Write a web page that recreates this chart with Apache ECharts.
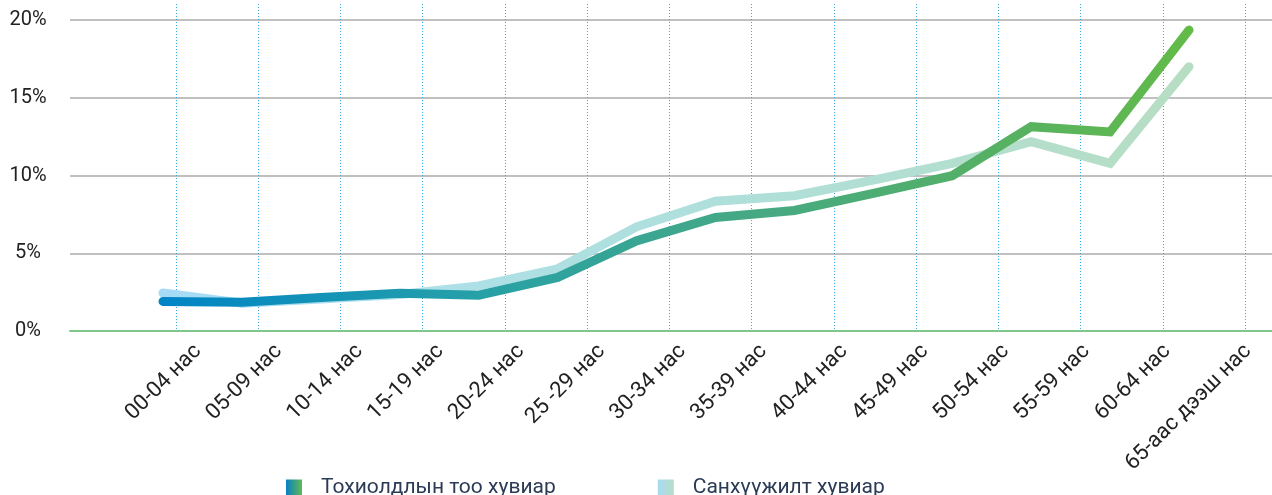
<!DOCTYPE html>
<html>
<head>
<meta charset="utf-8">
<script src="https://cdn.jsdelivr.net/npm/echarts@6/dist/echarts.min.js"></script>
<style>
  html, body { margin: 0; padding: 0; background: #fff; }
  #chart { width: 1272px; height: 495px; }
</style>
</head>
<body>
<div id="chart"></div>
<script>
// age groups
const ageGroups = ['00-04 нас', '05-09 нас', '10-14 нас', '15-19 нас', '20-24 нас', '25 -29 нас', '30-34 нас',
  '35-39 нас', '40-44 нас', '45-49 нас', '50-54 нас', '55-59 нас', '60-64 нас', '65-аас дээш нас'];

// share of cases, %
const caseShare = [1.9, 1.85, 2.15, 2.42, 2.3, 3.45, 5.8, 7.3, 7.75, 8.85, 9.99, 13.14, 12.8, 19.35];
// share of funding, %
const fundingShare = [2.45, 1.78, 2.05, 2.35, 2.9, 4.0, 6.7, 8.35, 8.7, 9.7, 10.78, 12.17, 10.78, 17.0];

const yTicks = [0, 5, 10, 15, 20];

const seriesNames = ['Тохиолдлын тоо хувиар', 'Санхүүжилт хувиар'];

const caseGradient = new echarts.graphic.LinearGradient(0, 0, 1, 0, [
  { offset: 0, color: '#0084c6' },
  { offset: 0.3, color: '#25a0a8' },
  { offset: 0.55, color: '#44a887' },
  { offset: 0.8, color: '#55b065' },
  { offset: 1, color: '#63bb48' }
]);
const fundGradient = new echarts.graphic.LinearGradient(0, 0, 1, 0, [
  { offset: 0, color: '#a5dbf6' },
  { offset: 0.3, color: '#ade0e6' },
  { offset: 0.6, color: '#b0dfd8' },
  { offset: 1, color: '#b7dec3' }
]);

const chart = echarts.init(document.getElementById('chart'));
const font = 'Roboto';
const hiddenY = (gi) => ({ gridIndex: gi, type: 'value', min: 0, max: 20, show: false });

chart.setOption({
  animation: false,
  textStyle: { fontFamily: font },
  legend: {
    left: 286,
    top: 477,
    padding: 0,
    itemWidth: 16,
    itemHeight: 16,
    itemGap: 102,
    icon: 'rect',
    textStyle: { fontSize: 21, color: '#2b3a55', fontFamily: font, padding: [0, 0, 0, 14] },
    data: [
      { name: seriesNames[0], itemStyle: { color: new echarts.graphic.LinearGradient(0, 0, 1, 0, [
        { offset: 0, color: '#0a7fc6' }, { offset: 1, color: '#5fba52' }]) } },
      { name: seriesNames[1], itemStyle: { color: new echarts.graphic.LinearGradient(0, 0, 1, 0, [
        { offset: 0, color: '#a7dcf3' }, { offset: 1, color: '#b5dec6' }]) } }
    ]
  },
  grid: [
    { left: 70, right: 0, top: 20, height: 311 },   // y axis + horizontal lines
    { left: 176, right: 27, top: 4, height: 327 },  // dotted vertical lines
    { left: 198, right: 24, top: 20, height: 311 }, // category labels
    { left: 163, right: 83, top: 20, height: 311 }  // data lines
  ],
  xAxis: [
    {
      gridIndex: 0, type: 'value', min: 0, max: 1,
      axisLine: { show: true, lineStyle: { color: '#7cc68a', width: 2 } },
      axisTick: { show: false }, axisLabel: { show: false }, splitLine: { show: false }, z: 5
    },
    {
      gridIndex: 1, type: 'category', boundaryGap: false, data: ageGroups,
      axisLine: { show: false }, axisTick: { show: false }, axisLabel: { show: false, interval: 0 },
      splitLine: { show: true, interval: 0, lineStyle: { color: '#3aa9dd', width: 1, type: [1, 2] } }
    },
    {
      gridIndex: 2, type: 'category', boundaryGap: false, data: ageGroups,
      axisLine: { show: false }, axisTick: { show: false }, splitLine: { show: false },
      axisLabel: { rotate: 45, margin: 17, fontSize: 22, color: '#222', fontFamily: font, interval: 0 }
    },
    {
      gridIndex: 3, type: 'category', boundaryGap: false, data: ageGroups, show: false
    }
  ],
  yAxis: [
    {
      gridIndex: 0, type: 'value', min: yTicks[0], max: yTicks[yTicks.length - 1], interval: yTicks[1] - yTicks[0],
      axisLine: { show: false }, axisTick: { show: false },
      axisLabel: { formatter: '{value}%', fontSize: 20, color: '#222', align: 'center', margin: 42, fontFamily: font },
      splitLine: { show: true, lineStyle: { color: '#c0c0c0', width: 2 } }
    },
    hiddenY(1), hiddenY(2), hiddenY(3)
  ],
  series: [
    {
      name: seriesNames[1], type: 'line', xAxisIndex: 3, yAxisIndex: 3,
      data: fundingShare, symbol: 'none', z: 3,
      lineStyle: { width: 9, color: fundGradient, cap: 'round', join: 'miter' }
    },
    {
      name: seriesNames[0], type: 'line', xAxisIndex: 3, yAxisIndex: 3,
      data: caseShare, symbol: 'none', z: 4,
      lineStyle: { width: 9, color: caseGradient, cap: 'round', join: 'miter' }
    }
  ]
});

window.addEventListener('resize', () => chart.resize());
</script>
</body>
</html>
